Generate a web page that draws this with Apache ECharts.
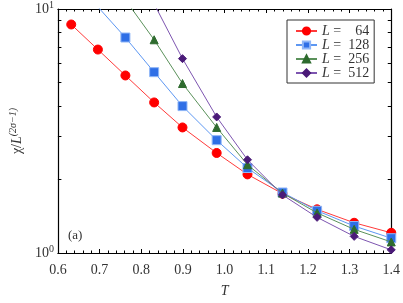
<!DOCTYPE html>
<html><head><meta charset="utf-8">
<script src="https://cdn.jsdelivr.net/npm/echarts@6/dist/echarts.min.js"></script>
<style>html,body{margin:0;padding:0;background:#fff}#c{width:403px;height:303px}</style>
</head><body><div id="c"></div>
<script>
var T = [0.632, 0.696, 0.762, 0.831, 0.899, 0.981, 1.055, 1.139, 1.222, 1.311, 1.4];
var chi64  = [8.64, 6.82, 5.34, 4.14, 3.27, 2.57, 2.10, 1.75, 1.51, 1.33, 1.21];
var chi128 = [null, 10.2, 7.64, 5.51, 4.00, 2.90, 2.23, 1.77, 1.49, 1.29, 1.15];
var chi256 = [null, null, 10.9, 7.48, 4.95, 3.27, 2.30, 1.76, 1.46, 1.25, 1.11];
var chi512 = [null, null, null, 10.5, 6.26, 3.61, 2.41, 1.73, 1.40, 1.17, 1.03];
var names = ['64', '128', '256', '512'];
var xTicks = [0.6, 0.7, 0.8, 0.9, 1.0, 1.1, 1.2, 1.3, 1.4];
var yMinorTicks = [1, 2, 3, 4, 5, 6, 7, 8, 9, 10];
var yLabels = [1, 10];

var FONT = 'Liberation Serif';
function pairs(arr) {
  var out = [];
  for (var i = 0; i < T.length; i++) if (arr[i] != null) out.push([T[i], arr[i]]);
  return out;
}
var styles = [
  {color: '#ff0000', line: '#ff3a3a', symbol: 'circle', size: 9, border: '#ff0000'},
  {color: '#2f6fe6', line: '#5d97f2', symbol: 'rect', size: 9, border: '#8fb6f7'},
  {color: '#2e6b2e', line: '#5a915a', symbol: 'triangle', size: 8, border: '#2e6b2e'},
  {color: '#4a1a78', line: '#7d55b0', symbol: 'diamond', size: 8, border: '#4a1a78'}
];
var data = [chi64, chi128, chi256, chi512];
var series = data.map(function (d, k) {
  var s = styles[k];
  return {
    name: names[k], type: 'line', data: pairs(d), clip: true,
    symbol: s.symbol, symbolSize: s.size, showSymbol: true,
    lineStyle: {color: s.line, width: 1},
    itemStyle: {color: s.color, borderColor: s.border, borderWidth: 1},
    emphasis: {disabled: true}, z: 3 + k
  };
});

var xAxisBase = {
  type: 'value', min: 0.6, max: 1.4, interval: 0.1,
  axisLine: {show: true, onZero: false, lineStyle: {color: '#000', width: 1.2}},
  axisTick: {show: true, inside: true, length: 4, lineStyle: {color: '#000'}},
  minorTick: {show: true, splitNumber: 5, length: 2.5, lineStyle: {color: '#000'}},
  splitLine: {show: false}
};
var yAxisBase = {
  type: 'log', logBase: 10, min: 1, max: 10,
  axisLine: {show: true, onZero: false, lineStyle: {color: '#000', width: 1.2}},
  axisTick: {show: true, inside: true, length: 3.5, customValues: yMinorTicks, lineStyle: {color: '#000'}},
  splitLine: {show: false}
};

var chart = echarts.init(document.getElementById('c'), null, {renderer: 'canvas'});
chart.setOption({
  animation: false,
  backgroundColor: '#fff',
  textStyle: {fontFamily: FONT},
  grid: {left: 44, right: 9, top: 9, bottom: 43},
  xAxis: [
    Object.assign({}, xAxisBase, {
      position: 'bottom',
      axisLabel: {show: true, color: '#333', fontFamily: FONT, fontSize: 14, margin: 10,
        customValues: xTicks, formatter: function (v) { return v.toFixed(1); }},
      name: 'T', nameLocation: 'middle', nameGap: 31,
      nameTextStyle: {fontFamily: FONT, fontStyle: 'italic', fontSize: 14, color: '#333'}
    }),
    Object.assign({}, xAxisBase, {position: 'top', axisLabel: {show: false}})
  ],
  yAxis: [
    Object.assign({}, yAxisBase, {
      position: 'left',
      axisLabel: {show: true, margin: 4, customValues: yLabels,
        formatter: function (v) { return '{b|10}{s|' + Math.round(Math.log10(v)) + '}'; },
        rich: {
          b: {fontFamily: FONT, fontSize: 14, color: '#333'},
          s: {fontFamily: FONT, fontSize: 10, color: '#333', padding: [0, 0, 8, 0]}
        }},
      name: '{a|χ/}{i|L}{s|(2σ−1)}', nameLocation: 'middle', nameGap: 23, nameRotate: 90,
      nameTextStyle: {
        rich: {
          a: {fontFamily: FONT, fontSize: 14, color: '#333'},
          i: {fontFamily: FONT, fontStyle: 'italic', fontSize: 14, color: '#333'},
          s: {fontFamily: FONT, fontStyle: 'italic', fontSize: 10, color: '#333', padding: [0, 0, 8, 0]}
        }
      }
    }),
    Object.assign({}, yAxisBase, {position: 'right', axisLabel: {show: false}})
  ],
  legend: {
    show: true, orient: 'vertical', left: 287, top: 20,
    padding: [4, 5, 3, 8], itemGap: 0, itemWidth: 21, itemHeight: 9,
    borderColor: '#333', borderWidth: 1, borderRadius: 0, backgroundColor: '#fff',
    data: names,
    formatter: function (n) { return '{i|L}{e| =}{n|' + n + '}'; },
    textStyle: {
      rich: {
        i: {fontFamily: FONT, fontStyle: 'italic', fontSize: 14, color: '#333', lineHeight: 14.5},
        e: {fontFamily: FONT, fontSize: 14, color: '#333', lineHeight: 14.5},
        n: {fontFamily: FONT, fontSize: 14, color: '#333', width: 28, align: 'right', lineHeight: 14.5}
      }
    }
  },
  graphic: [
    {type: 'text', left: 68, top: 229, style: {text: '(a)', fontFamily: FONT, fontSize: 13, fill: '#333'}}
  ],
  series: series
});
</script>
</body></html>
